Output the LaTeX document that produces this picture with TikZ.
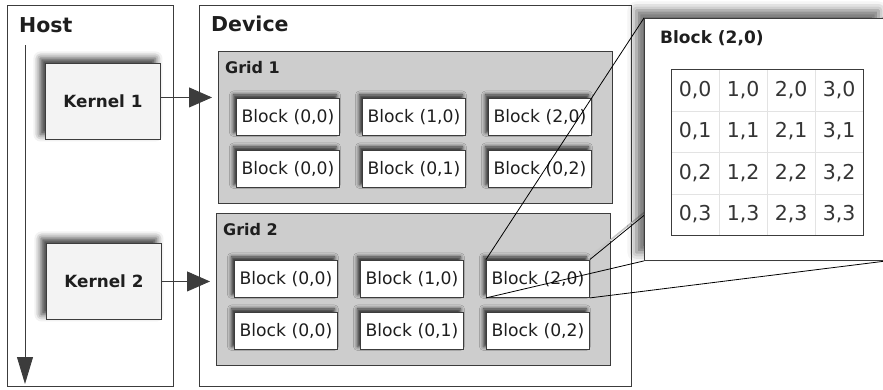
\documentclass[tikz,border=0pt]{standalone}
\usepackage{fontspec}
\setmainfont{DejaVu Sans}
\usetikzlibrary{arrows.meta, shadows.blur}

\definecolor{edge}{HTML}{3C3C3C}
\definecolor{gridgray}{HTML}{CDCDCD}
\definecolor{kernelgray}{HTML}{F3F3F3}
\definecolor{ink}{HTML}{1E1E1E}

\tikzset{
	panel/.style = {draw = edge, line width = 0.9pt, anchor = north west, inner sep = 0pt},
	kernelbox/.style = {panel, fill = kernelgray, minimum width = 115pt, minimum height = 76pt,
		font = \fontsize{16.8}{17}\selectfont\bfseries, text = ink,
		blur shadow = {shadow xshift = -5pt, shadow yshift = 5pt, shadow blur radius = 7pt, shadow opacity = 80}},
	gridbox/.style = {panel, fill = gridgray, minimum width = 394pt, minimum height = 152pt},
	blockbox/.style = {panel, fill = white, minimum width = 103pt, minimum height = 37.5pt,
		font = \fontsize{17.2}{17}\selectfont, text = ink,
		blur shadow = {shadow xshift = -3pt, shadow yshift = 3pt, shadow blur radius = 4pt, shadow opacity = 80}},
	title/.style = {anchor = base west, inner sep = 0pt, text = ink, font = \fontsize{20.5}{21}\selectfont\bfseries},
	subtitle/.style = {title, font = \fontsize{16}{16}\selectfont\bfseries},
	cell/.style = {draw = gray!22, anchor = north west, minimum width = 48pt, minimum height = 41.5pt,
		inner sep = 0pt, font = \fontsize{20.5}{20}\selectfont, text = ink!90},
	zoomline/.style = {draw = black, line width = 0.8pt,
		preaction = {draw = gray!45, line width = 1.6pt, transform canvas = {shift = {(-1.5pt, 1.5pt)}}}},
}

\begin{document}
\begin{tikzpicture}[x = 1pt, y = -1pt]
	\useasboundingbox (0,0) rectangle (883,389);
	
	\node (host) [panel, minimum width = 166pt, minimum height = 381pt] at (7,5) {};
	\node (host label) [title] at (19,32) {Host};
	
	\coordinate (time start) at (25,45);
	\coordinate (time end) at (25,384);
	\draw [edge, line width = 0.9pt, -{Triangle[length = 27pt, width = 16pt]}] (time start) -- (time end);
	
	\node (kernel1) [kernelbox] at (45,63) {Kernel 1};
	\node (kernel2) [kernelbox] at (46,243) {Kernel 2};
	
	\node (device) [panel, minimum width = 432pt, minimum height = 381pt] at (199,5) {};
	\node (device label) [title] at (211,31) {Device};
	
	\foreach \g/\gx/\gy in {1/218/51, 2/216/213} {
		\node (grid\g) [gridbox] at (\gx,\gy) {};
		\node (grid\g label) [subtitle] at (\gx + 7, \gy + 22.5) {Grid \g};
		\foreach \lbl [count = \i from 0] in {{(0,0)}, {(1,0)}, {(2,0)}, {(0,0)}, {(0,1)}, {(0,2)}} {
			\pgfmathtruncatemacro\col{mod(\i,3)}
			\pgfmathtruncatemacro\row{\i/3}
			\node (g\g b\i) [blockbox] at (\gx + 18 + 126*\col, \gy + 46.5 + 52*\row) {Block \lbl};
		}
	}
	
	\begin{scope}[edge, line width = 0.9pt, -{Triangle[length = 23pt, width = 20pt]}, shorten > = 6pt]
		\draw ([yshift = 4pt]kernel1.east) -- ([yshift = 4pt]kernel1.east -| grid1.west);
		\draw (kernel2.east) -- (kernel2.east -| grid2.west);
	\end{scope}
	
	\draw [zoomline] (g2b2.north east) -- (886,18);
	
	\node (zoom) [panel, fill = white, minimum width = 242pt, minimum height = 242pt,
		blur shadow = {shadow xshift = -8pt, shadow yshift = 8pt, shadow blur radius = 9pt, shadow opacity = 60}] at (644,18) {};
	\node (zoom label) [subtitle, font = \fontsize{17}{17}\selectfont\bfseries] at (660,43) {Block (2,0)};
	
	\foreach \c in {0,...,3}
		\foreach \r in {0,...,3}
			\node (cell\c\r) [cell] at (671 + 48*\c, 69 + 41.5*\r) {\c,\r};
	\draw [edge, line width = 0.9pt] (cell00.north west) rectangle (cell33.south east);
	
	\begin{scope}[zoomline]
		\draw (g2b2.north west) -- (zoom.north west);
		\draw (g2b2.south west) -- (zoom.south west);
		\draw (g2b2.south east) -- (zoom.south east);
	\end{scope}
\end{tikzpicture}
\end{document}
